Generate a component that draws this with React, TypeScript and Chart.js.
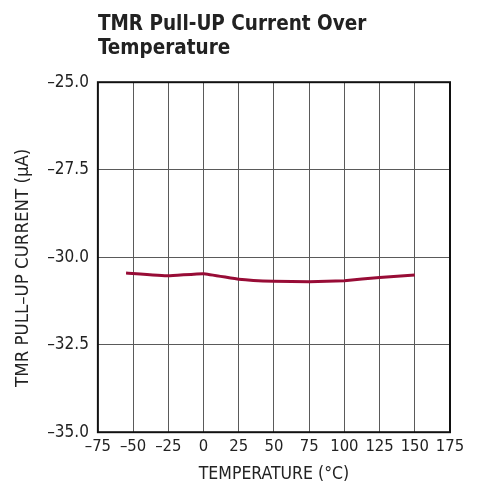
import React, { useEffect, useRef } from "react";
import { Chart, registerables } from "chart.js";

Chart.register(...registerables);

const temperatures = [-55, -25, 0, 25, 50, 75, 100, 125, 150];
const currents = [-30.45, -30.53, -30.47, -30.63, -30.69, -30.7, -30.67, -30.58, -30.51];
const xTickValues = [-75, -50, -25, 0, 25, 50, 75, 100, 125, 150, 175];
const yTickValues = [-35, -32.5, -30, -27.5, -25];

const FONT = "'DejaVu Sans Condensed', 'Liberation Sans', sans-serif";

const minus = (s: string) => s.replace("-", "\u2013");

export default function App() {
  const ref = useRef<HTMLCanvasElement>(null);
  useEffect(() => {
    document.body.style.margin = "0";
    const frame = {
      id: "frame",
      afterDraw(chart: any) {
        const { ctx, chartArea } = chart;
        ctx.save();
        ctx.strokeStyle = "#111";
        ctx.lineWidth = 2;
        ctx.strokeRect(chartArea.left, chartArea.top, chartArea.right - chartArea.left, chartArea.bottom - chartArea.top);
        ctx.restore();
      },
    };
    const chart = new Chart(ref.current!, {
      type: "line",
      data: {
        datasets: [
          {
            data: temperatures.map((t, i) => ({ x: t, y: currents[i] })),
            borderColor: "#980c36",
            borderWidth: 3,
            pointRadius: 0,
            tension: 0.1,
            fill: false,
          },
        ],
      },
      options: {
        animation: false,
        responsive: false,
        layout: { padding: { left: 12, right: 29, top: 6, bottom: 2 } },
        plugins: {
          legend: { display: false },
          tooltip: { enabled: false },
          title: {
            display: true,
            text: ["TMR Pull-UP Current Over", "Temperature"],
            align: "start",
            fullSize: false,
            color: "#222",
            font: { family: FONT, size: 20.5, weight: "bold", lineHeight: 1.2 },
            padding: { top: 6, bottom: 21 },
          },
        },
        scales: {
          x: {
            type: "linear",
            min: -75,
            max: 175,
            afterBuildTicks: (s: any) => {
              s.ticks = xTickValues.map((v) => ({ value: v }));
            },
            ticks: {
              color: "#222",
              font: { family: FONT, size: 16.5 },
              maxRotation: 0,
              autoSkip: false,
              padding: 5,
              callback: (v: any) => minus(String(v)),
            },
            grid: { color: "#5a5a5a", lineWidth: 1, drawTicks: false },
            border: { display: false },
            title: {
              display: true,
              text: "TEMPERATURE (°C)",
              color: "#222",
              font: { family: FONT, size: 17.5 },
              padding: { top: 2, bottom: 0 },
            },
          },
          y: {
            type: "linear",
            min: -35,
            max: -25,
            afterBuildTicks: (s: any) => {
              s.ticks = yTickValues.map((v) => ({ value: v }));
            },
            ticks: {
              color: "#222",
              font: { family: FONT, size: 17 },
              autoSkip: false,
              padding: 9,
              callback: (v: any) => minus(Number(v).toFixed(1)),
            },
            grid: { color: "#5a5a5a", lineWidth: 1, drawTicks: false },
            border: { display: false },
            title: {
              display: true,
              text: "TMR PULL\u2013UP CURRENT (µA)\u00a0\u00a0\u00a0\u00a0",
              color: "#222",
              font: { family: FONT, size: 18.5 },
              padding: { top: 0, bottom: 4 },
            },
          },
        },
      },
      plugins: [frame],
    });
    return () => chart.destroy();
  }, []);
  return (
    <div style={{ width: 479, height: 487 }}>
      <canvas ref={ref} width={479} height={487} style={{ display: "block" }} />
    </div>
  );
}
